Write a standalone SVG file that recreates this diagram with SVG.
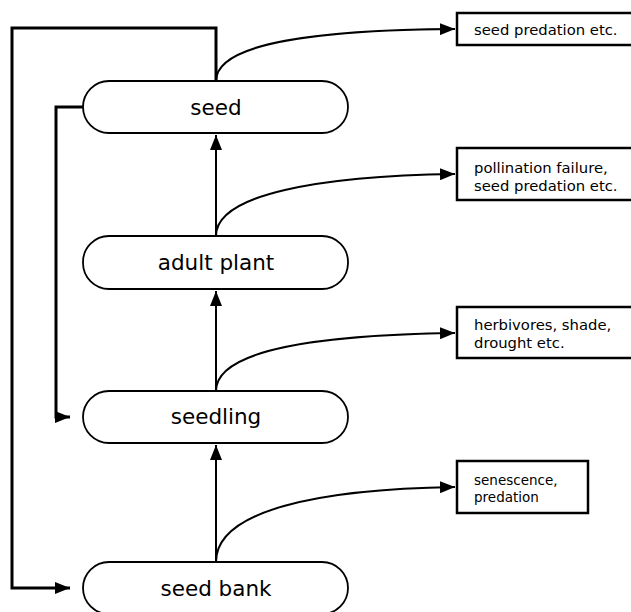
<svg xmlns="http://www.w3.org/2000/svg" width="631" height="612" viewBox="0 0 631 612">
<style>
.node{fill:#fff;stroke:#000;stroke-width:1.8}
.box{fill:#fff;stroke:#000;stroke-width:2.5}
.nt{font-family:"DejaVu Sans",Verdana,sans-serif;font-size:21.5px;text-anchor:middle;fill:#000}
.bt{font-family:"DejaVu Sans",Verdana,sans-serif;font-size:14.8px;fill:#000}
.bt2{font-family:"DejaVu Sans",Verdana,sans-serif;font-size:13.5px;fill:#000}
.c{fill:none;stroke:#000;stroke-width:2}
.loop{fill:none;stroke:#000;stroke-width:3}
</style>
<defs>
<marker id="ah" markerUnits="userSpaceOnUse" markerWidth="16" markerHeight="12" refX="15" refY="6" orient="auto">
<path d="M0,0 L15,6 L0,12 Z" fill="#000"/>
</marker>
</defs>
<rect width="631" height="612" fill="#fff"/>
<g id="connectors">
<path class="loop" d="M216,81 V28 H12 V588 H70" marker-end="url(#ah)"/>
<path class="loop" d="M83,107 H56 V417 H70" marker-end="url(#ah)"/>
<path class="c" d="M216,562 V445" marker-end="url(#ah)"/>
<path class="c" d="M216,391 V291" marker-end="url(#ah)"/>
<path class="c" d="M216,236 V135" marker-end="url(#ah)"/>
<path class="c" d="M216,81 C216,42 320,30 455,29" marker-end="url(#ah)"/>
<path class="c" d="M216,236 C216,194 320,176 455,174" marker-end="url(#ah)"/>
<path class="c" d="M216,391 C216,349 320,335 455,333" marker-end="url(#ah)"/>
<path class="c" d="M216,562 C216,510 320,489 455,487" marker-end="url(#ah)"/>
</g>
<g id="seed"><rect class="node" x="83" y="81" width="265" height="52" rx="26"/><text class="nt" x="216" y="115">seed</text></g>
<g id="adult-plant"><rect class="node" x="83" y="236" width="265" height="53" rx="26"/><text class="nt" x="216" y="270">adult plant</text></g>
<g id="seedling"><rect class="node" x="83" y="391" width="265" height="52" rx="26"/><text class="nt" x="216" y="424">seedling</text></g>
<g id="seed-bank"><rect class="node" x="83" y="562" width="265" height="52" rx="26"/><text class="nt" x="216" y="596">seed bank</text></g>
<g id="loss-seed"><rect class="box" x="457" y="13" width="190" height="32"/><text class="bt" x="474" y="35">seed predation etc.</text></g>
<g id="loss-adult"><rect class="box" x="457" y="148" width="190" height="52"/><text class="bt" x="474" y="173">pollination failure,</text><text class="bt" x="474" y="191">seed predation etc.</text></g>
<g id="loss-seedling"><rect class="box" x="457" y="307" width="190" height="51"/><text class="bt" x="474" y="330">herbivores, shade,</text><text class="bt" x="474" y="348">drought etc.</text></g>
<g id="loss-bank"><rect class="box" x="457" y="461" width="131" height="52"/><text class="bt2" x="474" y="485">senescence,</text><text class="bt2" x="474" y="502">predation</text></g>
</svg>
